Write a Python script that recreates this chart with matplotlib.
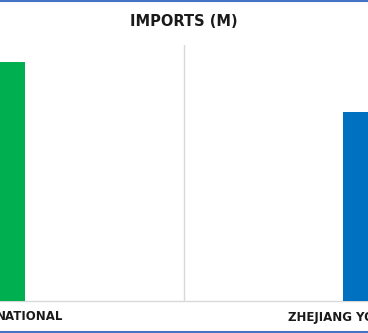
import matplotlib
matplotlib.use('Agg')

import matplotlib.pyplot as plt
from matplotlib.lines import Line2D

# visible (cropped) category labels and values
categories = ["NATIONAL", "ZHEJIANG YO"]
imports_m = [18.7, 14.8]
bar_colors = ["#00B050", "#0070C0"]

fig = plt.figure(figsize=(3.68, 3.33), dpi=100)
ax = fig.add_axes([0, 32 / 333, 1, 256 / 333])

x = list(range(len(categories)))
ax.bar(x, imports_m, width=0.313, color=bar_colors, zorder=3)

# chart is cropped on both sides in the reference
ax.set_xlim(0.1026, 0.8974)
ax.set_ylim(0, 20)

ax.set_xticks([])
ax.set_yticks([])
ax.set_xticks([0.5], minor=True)
ax.tick_params(which='both', length=0, labelbottom=False)
ax.grid(which='minor', axis='x', color='#D9D9D9', linewidth=1.0)

for side in ['top', 'left', 'right']:
    ax.spines[side].set_visible(False)
ax.spines['bottom'].set_color('#D9D9D9')
ax.spines['bottom'].set_linewidth(1.0)

label_font = dict(fontsize=8.5, fontweight='bold', color='#1a1a1a',
                  family='DejaVu Sans')
ax.text(63 / 368, -0.0625, categories[0], transform=ax.transAxes,
        ha='right', va='center', **label_font)
ax.text(288 / 368, -0.0625, categories[1], transform=ax.transAxes,
        ha='left', va='center', **label_font)

fig.text(0.5, 1 - 21 / 333, "IMPORTS (M)", ha='center', va='center',
         fontsize=10.5, fontweight='bold', color='#1a1a1a', family='DejaVu Sans')

# chart frame (top / bottom edges visible)
fig.add_artist(Line2D([0, 1], [1 - 0.5 / 333, 1 - 0.5 / 333], color='#4472C4',
                      linewidth=1.5, transform=fig.transFigure))
fig.add_artist(Line2D([0, 1], [1.0 / 333, 1.0 / 333], color='#4472C4',
                      linewidth=1.5, transform=fig.transFigure))

fig.savefig('out.png', dpi=100)
